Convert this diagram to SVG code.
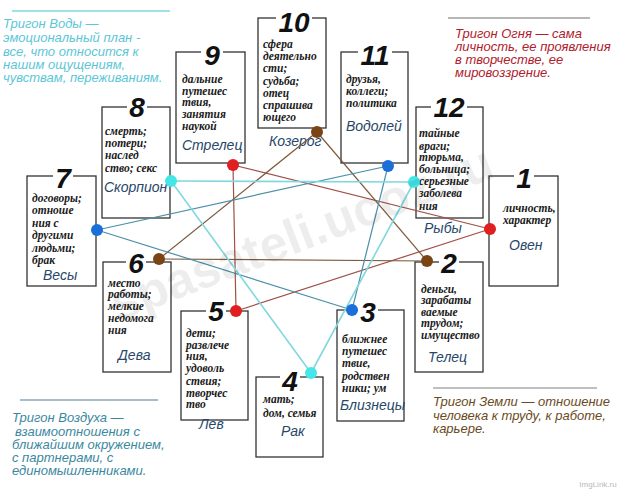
<svg xmlns="http://www.w3.org/2000/svg" width="640" height="493" viewBox="0 0 640 493">
<style>
.box{fill:#fff;stroke:#333;stroke-width:1.3}
.gap{fill:#fff}
.num{font-family:"Liberation Sans",Arial,sans-serif;font-weight:bold;font-style:italic;font-size:28px;text-anchor:middle;fill:#111}
.txt{font-family:"Liberation Serif","Times New Roman",serif;font-weight:bold;font-style:italic;font-size:11.5px;fill:#1a1a1a}
.sign{font-family:"Liberation Sans",Arial,sans-serif;font-style:italic;font-size:14px;fill:#27476a}
.tri{font-family:"Liberation Sans",Arial,sans-serif;font-style:italic;font-size:13px}
.fire{stroke:#a05048;stroke-width:1.2;fill:none}
.earth{stroke:#7d5a3c;stroke-width:1.2;fill:none}
.air{stroke:#4a90a8;stroke-width:1.2;fill:none}
.water{stroke:#80d8de;stroke-width:1.6;fill:none}
.dr{fill:#e02020}.db{fill:#1a70d8}.dc{fill:#44e6e8}.dn{fill:#7a4414}
</style>
<rect width="640" height="493" fill="#fff"/>

<g id="trigon-water">
<line x1="12" y1="11" x2="170" y2="11" stroke="#80d8e0" stroke-width="1.5"/>
<text class="tri" fill="#5cc6d6" x="3" y="28">Тригон Воды —</text>
<text class="tri" fill="#5cc6d6" x="3" y="42">эмоциональный план -</text>
<text class="tri" fill="#5cc6d6" x="3" y="56">все, что относится к</text>
<text class="tri" fill="#5cc6d6" x="3" y="69">нашим ощущениям,</text>
<text class="tri" fill="#5cc6d6" x="3" y="82">чувствам, переживаниям.</text>
</g>
<g id="trigon-fire">
<line x1="448" y1="18" x2="590" y2="18" stroke="#707070" stroke-width="1.2"/>
<text class="tri" fill="#b0202c" x="455" y="38">Тригон Огня — сама</text>
<text class="tri" fill="#b0202c" x="455" y="51">личность, ее проявления</text>
<text class="tri" fill="#b0202c" x="455" y="64">в творчестве, ее</text>
<text class="tri" fill="#b0202c" x="455" y="77">мировоззрение.</text>
</g>
<g id="trigon-air">
<line x1="20" y1="400" x2="158" y2="400" stroke="#8aa8b8" stroke-width="1.5"/>
<text class="tri" fill="#3a88a0" x="12" y="422">Тригон Воздуха —</text>
<text class="tri" fill="#3a88a0" x="15" y="436">взаимоотношения с</text>
<text class="tri" fill="#3a88a0" x="12" y="449">ближайшим окружением,</text>
<text class="tri" fill="#3a88a0" x="12" y="462">с партнерами, с</text>
<text class="tri" fill="#3a88a0" x="12" y="475">единомышленниками.</text>
</g>
<g id="trigon-earth">
<line x1="433" y1="388" x2="597" y2="388" stroke="#808080" stroke-width="1.2"/>
<text class="tri" fill="#6a4a22" x="433" y="406">Тригон Земли — отношение</text>
<text class="tri" fill="#6a4a22" x="433" y="420">человека к труду, к работе,</text>
<text class="tri" fill="#6a4a22" x="433" y="433">карьере.</text>
</g>

<g id="node-9">
<rect class="box" x="176" y="52" width="69" height="111"/>
<rect class="gap" x="201" y="48" width="22" height="8"/>
<text class="num" x="212" y="65">9</text>
<text class="txt" x="182" y="83">дальние</text>
<text class="txt" x="182" y="95">путешес</text>
<text class="txt" x="182" y="106">твия,</text>
<text class="txt" x="182" y="118">занятия</text>
<text class="txt" x="182" y="130">наукой</text>
<text class="sign" x="182" y="150">Стрелец</text>
</g>
<g id="node-10">
<rect class="box" x="258" y="18" width="68" height="110"/>
<rect class="gap" x="276" y="14" width="36" height="8"/>
<text class="num" x="294" y="32">10</text>
<text class="txt" x="263" y="48">сфера</text>
<text class="txt" x="263" y="60">деятельно</text>
<text class="txt" x="263" y="72">сти;</text>
<text class="txt" x="263" y="85">судьба;</text>
<text class="txt" x="263" y="97">отец</text>
<text class="txt" x="263" y="109">спрашива</text>
<text class="txt" x="263" y="121">ющего</text>
<text class="sign" x="269" y="146">Козерог</text>
</g>
<g id="node-11">
<rect class="box" x="341" y="52" width="67" height="111"/>
<rect class="gap" x="358" y="48" width="34" height="8"/>
<text class="num" x="375" y="65">11</text>
<text class="txt" x="346" y="83">друзья,</text>
<text class="txt" x="346" y="95">коллеги;</text>
<text class="txt" x="346" y="107">политика</text>
<text class="sign" x="346" y="131">Водолей</text>
</g>
<g id="node-12">
<rect class="box" x="416" y="107" width="67" height="111"/>
<rect class="gap" x="431" y="103" width="36" height="8"/>
<text class="num" x="449" y="117">12</text>
<text class="txt" x="419" y="137">тайные</text>
<text class="txt" x="419" y="150">враги;</text>
<text class="txt" x="419" y="161">тюрьма,</text>
<text class="txt" x="419" y="173">больница;</text>
<text class="txt" x="419" y="185">серьезные</text>
<text class="txt" x="419" y="197">заболева</text>
<text class="txt" x="419" y="210">ния</text>
<text class="sign" x="424" y="233">Рыбы</text>
</g>
<g id="node-1">
<rect class="box" x="489" y="176" width="69" height="110"/>
<rect class="gap" x="514" y="172" width="20" height="8"/>
<text class="num" x="524" y="188">1</text>
<text class="txt" x="503" y="212">личность,</text>
<text class="txt" x="503" y="224">характер</text>
<text class="sign" x="509" y="250">Овен</text>
</g>
<g id="node-2">
<rect class="box" x="415" y="262" width="68" height="110"/>
<rect class="gap" x="439" y="258" width="20" height="8"/>
<text class="num" x="449" y="273">2</text>
<text class="txt" x="421" y="293">деньги,</text>
<text class="txt" x="421" y="304">зарабаты</text>
<text class="txt" x="421" y="316">ваемые</text>
<text class="txt" x="421" y="327">трудом;</text>
<text class="txt" x="421" y="339">имущество</text>
<text class="sign" x="428" y="362">Телец</text>
</g>
<g id="node-3">
<rect class="box" x="337" y="310" width="67" height="111"/>
<rect class="gap" x="358" y="306" width="20" height="8"/>
<text class="num" x="368" y="322">3</text>
<text class="txt" x="342" y="343">ближнее</text>
<text class="txt" x="342" y="355">путешес</text>
<text class="txt" x="342" y="367">твие,</text>
<text class="txt" x="342" y="380">родствен</text>
<text class="txt" x="342" y="392">ники; ум</text>
<text class="sign" x="340" y="410">Близнецы</text>
</g>
<g id="node-4">
<rect class="box" x="256" y="377" width="67" height="80"/>
<rect class="gap" x="280" y="373" width="20" height="8"/>
<text class="num" x="290" y="391">4</text>
<text class="txt" x="263" y="403">мать;</text>
<text class="txt" x="263" y="417">дом, семья</text>
<text class="sign" x="281" y="436">Рак</text>
</g>
<g id="node-5">
<rect class="box" x="181" y="311" width="67" height="109"/>
<rect class="gap" x="206" y="307" width="20" height="8"/>
<text class="num" x="216" y="321">5</text>
<text class="txt" x="186" y="337">дети;</text>
<text class="txt" x="186" y="349">развлече</text>
<text class="txt" x="186" y="360">ния,</text>
<text class="txt" x="186" y="372">удоволь</text>
<text class="txt" x="186" y="385">ствия;</text>
<text class="txt" x="186" y="397">творчес</text>
<text class="txt" x="186" y="408">тво</text>
<text class="sign" x="199" y="429">Лев</text>
</g>
<g id="node-6">
<rect class="box" x="103" y="262" width="68" height="110"/>
<rect class="gap" x="126" y="258" width="20" height="8"/>
<text class="num" x="136" y="273">6</text>
<text class="txt" x="108" y="287">место</text>
<text class="txt" x="108" y="298">работы;</text>
<text class="txt" x="108" y="310">мелкие</text>
<text class="txt" x="108" y="322">недомога</text>
<text class="txt" x="108" y="334">ния</text>
<text class="sign" x="118" y="360">Дева</text>
</g>
<g id="node-7">
<rect class="box" x="27" y="176" width="69" height="110"/>
<rect class="gap" x="53" y="172" width="20" height="8"/>
<text class="num" x="63" y="188">7</text>
<text class="txt" x="32" y="202">договоры;</text>
<text class="txt" x="32" y="214">отноше</text>
<text class="txt" x="32" y="227">ния с</text>
<text class="txt" x="32" y="239">другими</text>
<text class="txt" x="32" y="252">людьми;</text>
<text class="txt" x="32" y="264">брак</text>
<text class="sign" x="43" y="280">Весы</text>
</g>
<g id="node-8">
<rect class="box" x="102" y="107" width="68" height="111"/>
<rect class="gap" x="127" y="103" width="20" height="8"/>
<text class="num" x="137" y="117">8</text>
<text class="txt" x="105" y="135">смерть;</text>
<text class="txt" x="105" y="147">потери;</text>
<text class="txt" x="105" y="159">наслед</text>
<text class="txt" x="105" y="172">ство; секс</text>
<text class="sign" x="104" y="192">Скорпион</text>
</g>

<g id="connectors">
<line class="fire" x1="233" y1="165" x2="236" y2="311"/>
<line class="fire" x1="233" y1="165" x2="490" y2="229"/>
<line class="fire" x1="236" y1="311" x2="490" y2="229"/>
<line class="earth" x1="317" y1="132" x2="159" y2="259"/>
<line class="earth" x1="317" y1="132" x2="427" y2="261"/>
<line class="earth" x1="159" y1="259" x2="427" y2="261"/>
<line class="air" x1="97" y1="230" x2="388" y2="166"/>
<line class="air" x1="97" y1="230" x2="352" y2="310"/>
<line class="air" x1="388" y1="166" x2="352" y2="310"/>
<line class="water" x1="171" y1="181" x2="414" y2="182"/>
<line class="water" x1="171" y1="181" x2="311" y2="373"/>
<line class="water" x1="414" y1="182" x2="311" y2="373"/>
<circle class="dr" cx="233" cy="165" r="6"/>
<circle class="dr" cx="236" cy="311" r="6"/>
<circle class="dr" cx="490" cy="229" r="6"/>
<circle class="dn" cx="317" cy="132" r="6"/>
<circle class="dn" cx="159" cy="259" r="6"/>
<circle class="dn" cx="427" cy="261" r="6"/>
<circle class="db" cx="97" cy="230" r="6"/>
<circle class="db" cx="388" cy="166" r="6"/>
<circle class="db" cx="352" cy="310" r="6"/>
<circle class="dc" cx="171" cy="181" r="6"/>
<circle class="dc" cx="414" cy="182" r="6"/>
<circle class="dc" cx="311" cy="373" r="6"/>
</g>

<text x="0" y="0" transform="translate(118,322) rotate(-21)" font-family="Liberation Sans,Arial,sans-serif" font-weight="bold" font-size="50" fill="#000" fill-opacity="0.07">spasateli.ucoz.ru</text>
<text x="598" y="487" font-family="Liberation Sans,Arial,sans-serif" font-size="8" fill="#b8b8b8" text-anchor="middle">ImgLink.ru</text>
</svg>
